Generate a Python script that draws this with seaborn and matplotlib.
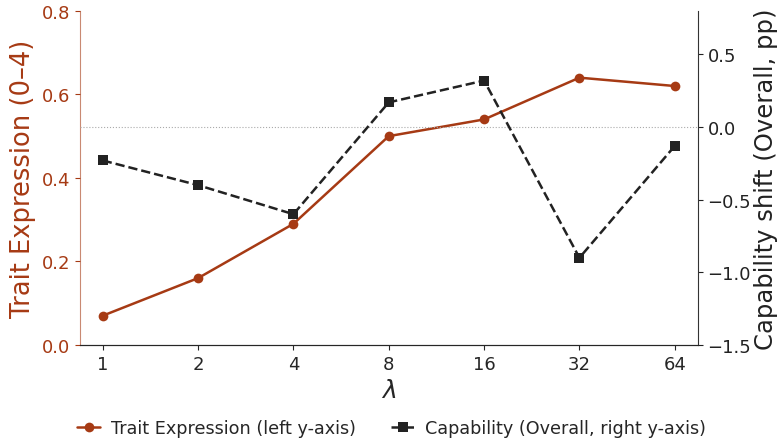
import matplotlib
matplotlib.use("Agg")
from matplotlib import pyplot as plt
import numpy as np
import pandas as pd
import seaborn as sn

lambdas = ["1", "2", "4", "8", "16", "32", "64"]
trait = [0.07, 0.16, 0.29, 0.50, 0.54, 0.64, 0.62]
capability = [-0.23, -0.40, -0.60, 0.17, 0.32, -0.90, -0.13]

trait_color = "#a63a14"
cap_color = "#222222"

sn.set_style("ticks")
plt.rcParams["font.family"] = ["DejaVu Sans"]

df = pd.DataFrame({"pos": range(len(lambdas)), "trait": trait, "cap": capability})

fig = plt.figure(figsize=(7.83, 4.39), dpi=100)
ax = fig.add_axes([0.102, 0.212, 0.789, 0.761])
ax2 = ax.twinx()

sn.lineplot(data=df, x="pos", y="trait", ax=ax, color=trait_color, marker="o",
            markersize=7, markeredgewidth=0, linewidth=1.8,
            label="Trait Expression (left y-axis)", legend=False)
sn.lineplot(data=df, x="pos", y="cap", ax=ax2, color=cap_color, marker="s",
            markersize=7, markeredgewidth=0, linewidth=1.8, linestyle="--",
            label="Capability (Overall, right y-axis)", legend=False)
ax2.axhline(0, color="#aaaaaa", linestyle=":", linewidth=0.8, zorder=0)

ax.set_xlim(-0.24, len(lambdas) - 1 + 0.24)
ax.set_xticks(range(len(lambdas)))
ax.set_xticklabels(lambdas)
ax.set_ylim(0, 0.8)
ax.set_yticks([0, 0.2, 0.4, 0.6, 0.8])
ax2.set_ylim(-1.5, 0.8)
ax2.set_yticks([-1.5, -1.0, -0.5, 0.0, 0.5])

ax.set_xlabel(r"$\lambda$", fontsize=18)
ax.set_ylabel("Trait Expression (0–4)", fontsize=18.5, color=trait_color)
ax2.set_ylabel("Capability shift (Overall, pp)", fontsize=17.5, color=cap_color,
               labelpad=2)

ax.tick_params(axis="y", labelsize=13, colors=trait_color)
ax.tick_params(axis="x", labelsize=13)
ax2.tick_params(axis="y", labelsize=13, colors=cap_color)

ax.spines["top"].set_visible(False)
ax2.spines["top"].set_visible(False)
ax.spines["right"].set_visible(False)
ax2.spines["left"].set_visible(False)
ax.spines["left"].set_color(trait_color)
ax.spines["left"].set_alpha(0.6)
ax2.spines["right"].set_color("#333333")

h1, l1 = ax.get_legend_handles_labels()
h2, l2 = ax2.get_legend_handles_labels()
fig.legend(h1 + h2, l1 + l2, loc="lower center", ncol=2, frameon=False,
           fontsize=12.7, bbox_to_anchor=(0.5, -0.035), columnspacing=2.0,
           handlelength=1.3, handletextpad=0.6)

fig.savefig("out.png", dpi=100)
